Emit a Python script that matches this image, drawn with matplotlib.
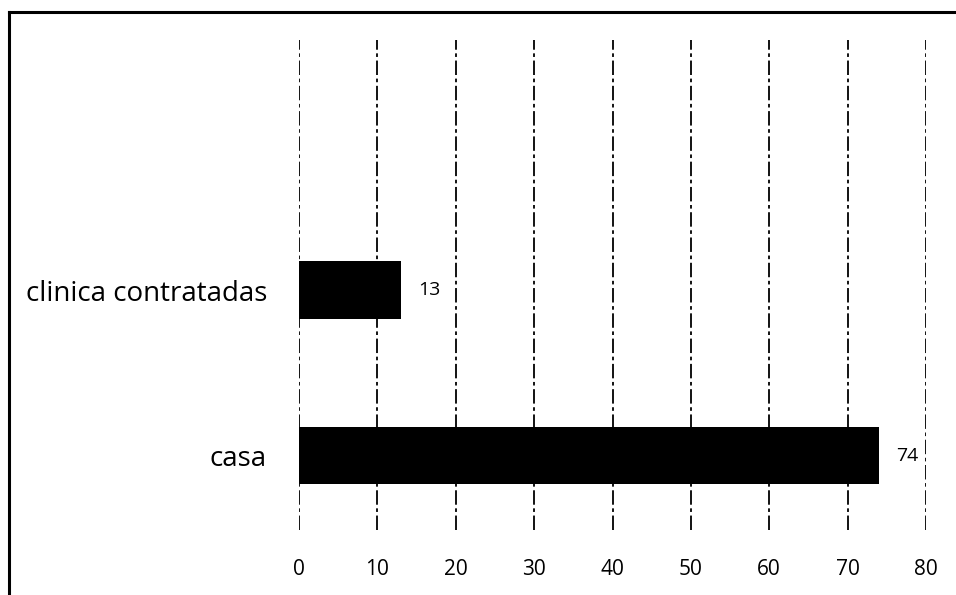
import matplotlib.pyplot as plt
from matplotlib.lines import Line2D

# data
categories = ['casa', 'clinica contratadas']
values = [74, 13]
xticks = [0, 10, 20, 30, 40, 50, 60, 70, 80]

plt.rcParams['font.family'] = ['Open Sans', 'DejaVu Sans']

fig = plt.figure(figsize=(9.56, 5.95), dpi=100)
ax = fig.add_axes([0.3128, 0.1092, 0.6558, 0.8235])

pos = list(range(len(categories)))
ax.barh(pos, values, height=0.345, color='black', zorder=3)

for p, v in zip(pos, values):
    ax.text(v + 2.2, p, str(v), va='center', ha='left', fontsize=14, color='black')

ax.set_xlim(0, 80)
ax.set_ylim(-0.45, 2.51)
ax.set_xticks(xticks)
ax.set_yticks(pos)
ax.set_yticklabels(categories, fontsize=20)
ax.tick_params(axis='x', length=0, pad=21, labelsize=15)
ax.tick_params(axis='y', length=0, pad=23)

# dashed vertical gridlines
ax.grid(axis='x', linestyle=(0, (8, 2, 2, 2)), linewidth=1.3, color='black', zorder=0)
ax.grid(axis='y', visible=False)
for s in ax.spines.values():
    s.set_visible(False)

# scanned frame (top and left edges only)
fig.add_artist(Line2D([0.009, 1.0], [0.980, 0.980], color='black', linewidth=2.2))
fig.add_artist(Line2D([0.009, 0.009], [0.0, 0.980], color='black', linewidth=2.2))

plt.savefig('out.png', dpi=100)
